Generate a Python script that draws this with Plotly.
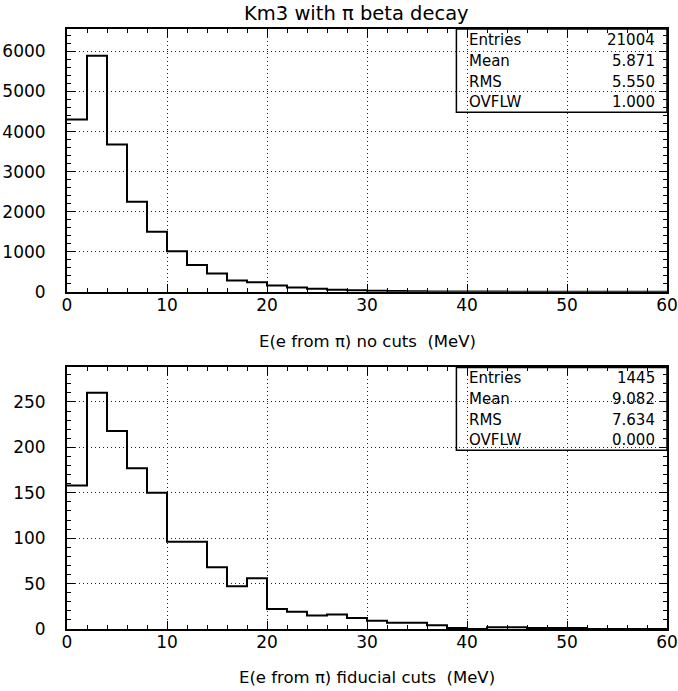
import plotly.graph_objects as go

# ---- data ----
bin_width = 2
n_bins = 30
bin_edges = [i * bin_width for i in range(n_bins + 1)]

top_counts = [4300, 5890, 3675, 2250, 1500, 1010, 668, 455, 285, 240,
              158, 108, 75, 50, 40, 25, 18, 14, 10, 8,
              6, 5, 4, 3, 2, 2, 1, 1, 1, 0]
bottom_counts = [158, 260, 218, 177, 150, 96, 96, 68, 47, 56,
                 22, 19, 15, 16, 12, 9, 7, 7, 4, 1,
                 0, 2, 2, 1, 1, 1, 0, 0, 0, 0]

title_text = "Km3 with π beta decay"
top_xlabel = "E(e from π) no cuts\u00a0 (MeV)"
bottom_xlabel = "E(e from π) fiducial cuts\u00a0 (MeV)"

stat_names = ["Entries", "Mean", "RMS", "OVFLW"]
top_stats = ["21004", "5.871", "5.550", "1.000"]
bottom_stats = ["1445", "9.082", "7.634", "0.000"]

FONT = "DejaVu Sans"

fig = go.Figure()

def step_xy(counts):
    xs = bin_edges[:-1] + [bin_edges[-1]]
    ys = counts + [counts[-1]]
    return xs, ys

for counts, xa, ya in [(top_counts, "x", "y"), (bottom_counts, "x2", "y2")]:
    xs, ys = step_xy(counts)
    fig.add_trace(go.Scatter(x=xs, y=ys, mode="lines", line_shape="hv",
                             line=dict(color="black", width=2),
                             xaxis=xa, yaxis=ya, showlegend=False,
                             hoverinfo="skip", cliponaxis=True))

GRID_DASH = "1px,3px"

def xaxis_cfg(domain_anchor):
    return dict(range=[0, 60], dtick=10, tick0=0, showgrid=True,
                gridcolor="#222", griddash=GRID_DASH, gridwidth=1,
                showline=True, linecolor="black", linewidth=2, mirror="ticks",
                ticks="inside", ticklen=8, tickwidth=1, tickcolor="black",
                minor=dict(dtick=2, ticklen=4, tickwidth=1, tickcolor="black", ticks="inside"),
                tickfont=dict(family=FONT, size=17, color="black"),
                ticklabelstandoff=-3, zeroline=False, anchor=domain_anchor,
                automargin=False, fixedrange=True)

def yaxis_cfg(rng, dtick, minor, domain, anchor):
    return dict(range=rng, dtick=dtick, tick0=0, showgrid=True,
                gridcolor="#222", griddash=GRID_DASH, gridwidth=1,
                showline=True, linecolor="black", linewidth=2, mirror="ticks",
                ticks="inside", ticklen=8, tickwidth=1, tickcolor="black",
                minor=dict(dtick=minor, ticklen=4, tickwidth=1, tickcolor="black", ticks="inside"),
                tickfont=dict(family=FONT, size=17, color="black"),
                ticklabelstandoff=16, zeroline=False, domain=domain, anchor=anchor,
                automargin=False, fixedrange=True)

fig.update_layout(
    width=678, height=691,
    margin=dict(l=67, r=11, t=29, b=62, autoexpand=False),
    paper_bgcolor="white", plot_bgcolor="white",
    xaxis=xaxis_cfg("y"),
    yaxis=yaxis_cfg([0, 6560], 1000, 200, [0.562, 1.0], "x"),
    xaxis2=xaxis_cfg("y2"),
    yaxis2=yaxis_cfg([0, 288], 50, 10, [0.0, 0.436], "x2"),
    showlegend=False,
)

annotations = [
    dict(text=title_text, xref="paper", yref="paper", x=0.4825, y=1.0 + 16 / 600,
         xanchor="center", yanchor="middle", showarrow=False,
         font=dict(family=FONT, size=19.5, color="black")),
    dict(text=top_xlabel, xref="paper", yref="paper", x=0.5, y=(629 - 341) / 600,
         xanchor="center", yanchor="middle", showarrow=False,
         font=dict(family=FONT, size=16.5, color="black")),
    dict(text=bottom_xlabel, xref="paper", yref="paper", x=0.5, y=(629 - 678) / 600,
         xanchor="center", yanchor="middle", showarrow=False,
         font=dict(family=FONT, size=16.5, color="black")),
]

shapes = []
row_offsets = [10.5, 32, 53, 73]  # pixels from top of frame
for xa, ya, stats, h in [("x", "y", top_stats, 262.4), ("x2", "y2", bottom_stats, 261.7)]:
    shapes.append(dict(type="rect", xref=f"{xa} domain", yref=f"{ya} domain",
                       x0=0.649, x1=1.0, y0=1 - 83 / h, y1=1.0,
                       line=dict(color="black", width=1.5), fillcolor="rgba(0,0,0,0)"))
    for name, val, off in zip(stat_names, stats, row_offsets):
        yy = 1 - off / h
        annotations.append(dict(text=name, xref=f"{xa} domain", yref=f"{ya} domain",
                                x=0.667, y=yy, xanchor="left", yanchor="middle",
                                showarrow=False,
                                font=dict(family=FONT, size=15, color="black")))
        annotations.append(dict(text=val, xref=f"{xa} domain", yref=f"{ya} domain",
                                x=0.984, y=yy, xanchor="right", yanchor="middle",
                                showarrow=False,
                                font=dict(family=FONT, size=15, color="black")))

fig.update_layout(annotations=annotations, shapes=shapes)

fig.write_html("out.html", config={"displayModeBar": False},
               post_script="document.body.style.margin='0';document.body.style.overflow='hidden';")
